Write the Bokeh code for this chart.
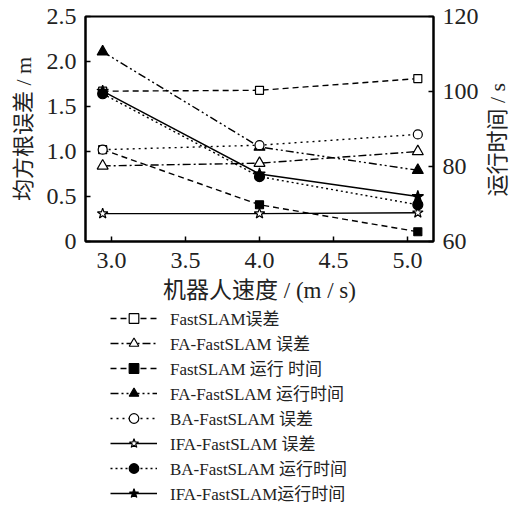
import math
from bokeh.plotting import figure
from bokeh.layouts import column, row
from bokeh.models import (Range1d, LinearAxis, FixedTicker, CustomJSTickFormatter,
                          PrintfTickFormatter, Legend, LegendItem)
from bokeh.core.properties import value
from bokeh.embed import file_html
from bokeh.resources import INLINE

speed = [2.94, 4.0, 5.07]
fastslam_err = [1.67, 1.68, 1.81]
fa_err = [0.84, 0.87, 1.00]
fastslam_time = [84.5, 69.8, 62.6]
fa_time = [110.6, 85.2, 79.0]
ba_err = [1.02, 1.07, 1.19]
ifa_err = [0.31, 0.31, 0.32]
ba_time = [99.4, 77.3, 69.8]
ifa_time = [100.1, 78.0, 72.0]

x_ticks = [3.0, 3.5, 4.0, 4.5, 5.0]
left_ticks = [0, 0.5, 1.0, 1.5, 2.0, 2.5]
right_ticks = [60, 80, 100, 120]

labels = ["FastSLAM误差", "FA-FastSLAM 误差", "FastSLAM 运行 时间", "FA-FastSLAM 运行时间",
          "BA-FastSLAM 误差", "IFA-FastSLAM 误差", "BA-FastSLAM 运行时间", "IFA-FastSLAM运行时间"]
right_label = "运行时间 / s"

FONT = "'Liberation Serif', 'Noto Sans CJK SC'"
INK = "#222222"

# ---------------- main chart ----------------
p = figure(width=482, height=305, output_backend="svg", toolbar_location=None,
           x_range=Range1d(2.824, 5.176), y_range=Range1d(0, 2.5),
           min_border_left=85, min_border_right=49, min_border_top=16, min_border_bottom=63,
           y_axis_location=None)
p.extra_y_ranges = {"time": Range1d(60, 120)}
p.grid.visible = False
p.outline_line_color = "black"
p.outline_line_width = 2

def style_axis(ax):
    ax.axis_line_width = 2
    ax.axis_line_color = "black"
    ax.major_tick_in = 5
    ax.major_tick_out = 0
    ax.minor_tick_line_color = None
    ax.major_tick_line_width = 1.5
    ax.major_label_text_font = FONT
    ax.major_label_text_font_size = "24px"
    ax.major_label_text_color = INK
    ax.major_label_standoff = 9
    ax.axis_label_text_font = FONT
    ax.axis_label_text_font_style = "normal"
    ax.axis_label_text_font_size = "22px"
    ax.axis_label_text_color = INK

xa = p.xaxis[0]
style_axis(xa)
xa.ticker = FixedTicker(ticks=x_ticks)
xa.formatter = PrintfTickFormatter(format="%.1f")
xa.axis_label = "机器人速度 / (m / s)"
xa.axis_label_text_font_size = "23px"
xa.major_label_standoff = 11
xa.axis_label_standoff = 7

la = LinearAxis(ticker=FixedTicker(ticks=left_ticks),
                formatter=CustomJSTickFormatter(code="return tick == 0 ? '0' : tick.toFixed(1);"),
                axis_label="均方根误差 / m")
style_axis(la)
la.axis_label_standoff = 8
p.add_layout(la, "left")

ra = LinearAxis(y_range_name="time", ticker=FixedTicker(ticks=right_ticks))
style_axis(ra)
p.add_layout(ra, "right")

# legend-only figure
q = figure(width=522, height=226, output_backend="svg", toolbar_location=None,
           x_range=Range1d(0, 1), y_range=Range1d(0, 1),
           x_axis_location=None, y_axis_location=None,
           min_border_left=0, min_border_right=0, min_border_top=0, min_border_bottom=0)
q.grid.visible = False
q.outline_line_color = None

items = []

def series(xs, ys, dash, marker, filled, size, label, rng="default"):
    kw = dict(line_color="black")
    l = p.line(xs, ys, line_width=1.4, line_dash=dash, y_range_name=rng, **kw)
    s = p.scatter(xs, ys, marker=marker, size=size, line_width=1.2,
                  fill_color="black" if filled else "white", y_range_name=rng, **kw)
    # twin renderers for the legend panel below the chart
    l2 = q.line(xs, ys, line_width=1.4, line_dash=dash, visible=False, **kw)
    s2 = q.scatter(xs, ys, marker=marker, size=size, line_width=1.2,
                   fill_color="black" if filled else "white", visible=False, **kw)
    items.append(LegendItem(label=label, renderers=[l2, s2]))

series(speed, fastslam_err, "6 4", "square", False, 8, labels[0])
series(speed, fa_err, "8 3 2 3", "triangle", False, 11, labels[1])
series(speed, fastslam_time, "6 4", "square", True, 8, labels[2], "time")
series(speed, fa_time, "8 3 2 3 2 3", "triangle", True, 11, labels[3], "time")
series(speed, ba_err, "2 4", "circle", False, 9, labels[4])
series(speed, ifa_err, "solid", "star", False, 11, labels[5])
series(speed, ba_time, "2 3", "circle", True, 10, labels[6], "time")
series(speed, ifa_time, "solid", "star", True, 12, labels[7], "time")

legend = Legend(items=items, location=(110, 26), orientation="vertical",
                padding=0, margin=0, spacing=0, glyph_width=47, glyph_height=24,
                label_height=24, label_standoff=13, click_policy="none",
                inactive_fill_alpha=0,
                label_text_font=FONT, label_text_font_size="17px", label_text_color=INK,
                border_line_alpha=0, background_fill_alpha=0)
q.add_layout(legend, "center")

# right axis title panel (reads bottom-to-top like the left one)
r = figure(width=40, height=305, output_backend="svg", toolbar_location=None,
           x_range=Range1d(0, 40), y_range=Range1d(0, 305),
           x_axis_location=None, y_axis_location=None,
           min_border_left=0, min_border_right=0, min_border_top=0, min_border_bottom=0)
r.grid.visible = False
r.outline_line_color = None
r.text(x=[15], y=[138], text=[right_label], angle=math.pi / 2,
       text_align="center", text_baseline="middle",
       text_font=value(FONT), text_font_size="22px", text_color=INK)

layout = column(row(p, r), q)
open("out.html", "w").write(file_html(layout, INLINE))
